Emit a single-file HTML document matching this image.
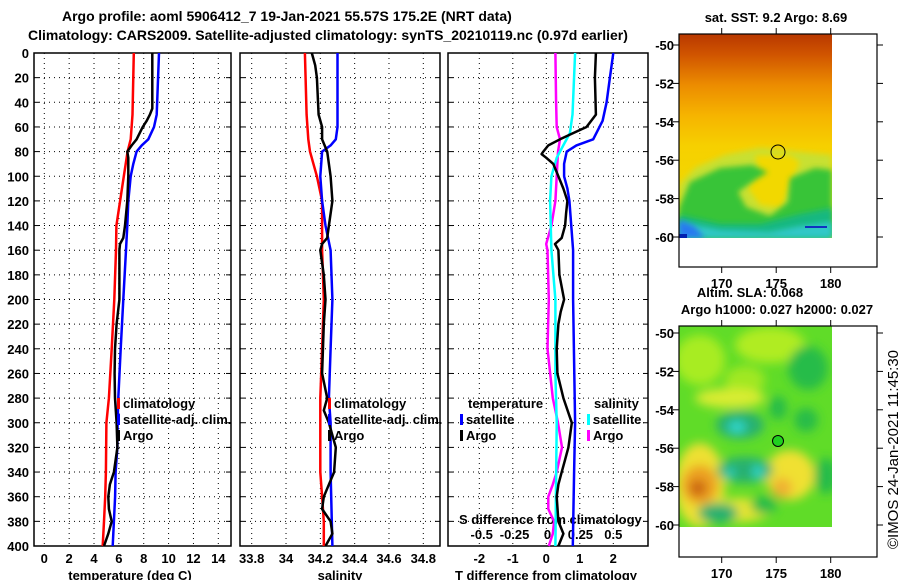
<!DOCTYPE html>
<html><head><meta charset="utf-8"><style>
html,body{margin:0;padding:0;background:#fff;}
svg{display:block;font-family:"Liberation Sans",sans-serif;font-weight:bold;}
text{font-size:13px;fill:#000;}
</style></head><body>
<svg id="chart" width="900" height="580" viewBox="0 0 900 580" xmlns="http://www.w3.org/2000/svg">
<defs>
<linearGradient id="sstg" x1="0" y1="0" x2="0" y2="1">
<stop offset="0" stop-color="#b83800"/><stop offset="0.1" stop-color="#d05400"/><stop offset="0.25" stop-color="#ec8c00"/><stop offset="0.4" stop-color="#f6b400"/><stop offset="0.55" stop-color="#f6d000"/><stop offset="1" stop-color="#ece000"/>
</linearGradient>
<filter id="bl" x="-20%" y="-20%" width="140%" height="140%"><feGaussianBlur stdDeviation="3"/></filter>
<filter id="bl2" x="-30%" y="-30%" width="160%" height="160%"><feGaussianBlur stdDeviation="5"/></filter>
<clipPath id="c1"><rect x="679" y="34" width="153" height="204"/></clipPath>
<clipPath id="c2"><rect x="679" y="326" width="153" height="201"/></clipPath>
</defs>
<text x="62" y="21" style="font-size:14px">Argo profile: aoml 5906412_7 19-Jan-2021 55.57S 175.2E (NRT data)</text>
<text x="28" y="40" style="font-size:14px">Climatology: CARS2009. Satellite-adjusted climatology: synTS_20210119.nc (0.97d earlier)</text>
<g id="panels"></g>

<g>
<text x="776" y="22" text-anchor="middle">sat. SST: 9.2 Argo: 8.69</text>
<g clip-path="url(#c1)">
<rect x="679" y="34" width="153" height="204" fill="url(#sstg)"/>
<polygon filter="url(#bl)" fill="#c8e030" points="679,185 695,168 725,155 760,148 800,152 832,155 832,238 679,238"/>
<polygon filter="url(#bl)" fill="#f2d800" points="755,155 790,155 800,162 790,185 782,208 760,205 748,188 758,170"/>
<polygon filter="url(#bl)" fill="#38c438" points="679,208 690,182 720,168 752,165 768,172 752,182 738,192 746,207 770,216 788,202 790,178 815,168 832,170 832,238 679,238"/>
<polygon filter="url(#bl)" fill="#18b880" points="679,215 720,224 760,224 800,214 832,208 832,238 679,238"/>
<polygon filter="url(#bl)" fill="#30c8c8" points="679,222 720,230 770,232 800,226 832,222 832,238 679,238"/>
<polygon filter="url(#bl)" fill="#2878f0" points="679,220 694,226 705,238 679,238"/>
<rect x="805" y="226" width="22" height="2" fill="#1030c0"/>
<rect x="679" y="234" width="8" height="4" fill="#0020b0"/>
</g>
<circle cx="778" cy="152" r="7" fill="none" stroke="#000" stroke-width="1"/>
<rect x="679" y="34" width="198" height="233" fill="none" stroke="#000" stroke-width="1.2"/>
</g>

<g>
<text x="750" y="297" text-anchor="middle">Altim. SLA: 0.068</text>
<text x="777" y="314" text-anchor="middle">Argo h1000: 0.027 h2000: 0.027</text>
<g clip-path="url(#c2)">
<rect x="679" y="326" width="153" height="201" fill="#60dc28"/>
<g filter="url(#bl2)">
<ellipse cx="700" cy="360" rx="25" ry="25" fill="#a8ec20"/>
<ellipse cx="770" cy="345" rx="35" ry="18" fill="#b0ec20"/>
<ellipse cx="745" cy="380" rx="20" ry="14" fill="#a0e820"/>
<ellipse cx="730" cy="398" rx="35" ry="10" fill="#d8ec30"/>
<ellipse cx="700" cy="485" rx="25" ry="42" fill="#eee030"/>
<ellipse cx="790" cy="475" rx="25" ry="25" fill="#f0e030"/>
<ellipse cx="740" cy="510" rx="30" ry="12" fill="#e4e430"/>
<ellipse cx="700" cy="485" rx="18" ry="20" fill="#eca020"/>
<ellipse cx="698" cy="488" rx="8" ry="8" fill="#c86010"/>
<ellipse cx="782" cy="488" rx="10" ry="10" fill="#f0b030"/>
<ellipse cx="808" cy="368" rx="20" ry="22" fill="#28bc48"/>
<ellipse cx="778" cy="408" rx="9" ry="12" fill="#28bc48"/>
<ellipse cx="806" cy="420" rx="12" ry="12" fill="#28bc48"/>
<ellipse cx="826" cy="476" rx="12" ry="18" fill="#28bc48"/>
<ellipse cx="764" cy="505" rx="13" ry="9" fill="#28bc48"/>
<ellipse cx="740" cy="425" rx="24" ry="14" fill="#28b070"/>
<ellipse cx="745" cy="470" rx="28" ry="13" fill="#28b070"/>
<ellipse cx="718" cy="513" rx="20" ry="10" fill="#28b070"/>
<ellipse cx="737" cy="427" rx="9" ry="6" fill="#30d8d0"/>
<ellipse cx="758" cy="472" rx="5" ry="7" fill="#30d8d0"/>
<ellipse cx="730" cy="473" rx="4" ry="5" fill="#30d8d0"/>
</g>
</g>
<circle cx="778" cy="441" r="5.5" fill="#20d020" stroke="#000" stroke-width="1"/>
<rect x="679" y="326" width="198" height="231" fill="none" stroke="#000" stroke-width="1.2"/>
</g>
<g id="mapaxes"></g>
<text transform="translate(898,549) rotate(-90)" textLength="199" lengthAdjust="spacingAndGlyphs" style="font-weight:normal;font-size:15px">©IMOS 24-Jan-2021 11:45:30</text>

<script>
// ---- data ----
const depthTicks = [0,20,40,60,80,100,120,140,160,180,200,220,240,260,280,300,320,340,360,380,400];
const tempTicks = [0,2,4,6,8,10,12,14];
const salTicks = [33.8,34,34.2,34.4,34.6,34.8];
const salTickLabels = ["33.8","34","34.2","34.4","34.6","34.8"];
const tdiffTicks = [-2,-1,0,1,2];
const sdiffTicks = [-0.5,-0.25,0,0.25,0.5];
const sdiffTickLabels = ["-0.5","-0.25","0","0.25","0.5"];

const tClimDepth = [0,50,70,80,100,120,140,160,200,240,280,300,340,360,380,400];
const tClim      = [7.2,7.1,6.95,6.7,6.4,6.1,5.8,5.77,5.63,5.42,5.2,5.0,4.96,4.9,4.8,4.7];
const tSatDepth = [0,50,60,70,75,80,90,100,120,140,160,200,240,280,300,320,340,360,380,400];
const tSat      = [9.23,9.04,8.83,8.37,7.84,7.43,7.16,6.95,6.76,6.68,6.57,6.36,6.15,5.95,5.9,5.88,5.74,5.7,5.6,5.5];
const tArgoDepth = [0,45,50,55,60,70,75,80,85,100,120,140,150,155,160,200,220,240,260,280,300,320,340,350,360,370,380,390,400];
const tArgo      = [8.69,8.69,8.5,8.24,7.92,7.43,7.03,6.68,6.76,6.76,6.68,6.49,6.36,6.09,6.04,6.04,5.82,5.69,5.66,5.69,5.82,5.88,5.6,5.28,5.15,5.2,5.42,5.15,4.8];

const sClimDepth = [0,50,70,80,100,120,160,200,240,280,300,340,360,380,400];
const sClim      = [34.11,34.12,34.13,34.14,34.18,34.21,34.21,34.22,34.21,34.2,34.2,34.2,34.21,34.22,34.22];
const sSatDepth = [0,60,70,75,80,100,120,140,160,200,240,280,300,340,400];
const sSat      = [34.3,34.3,34.29,34.26,34.21,34.2,34.21,34.23,34.26,34.27,34.26,34.25,34.26,34.26,34.27];
const sArgoDepth = [0,10,20,50,60,70,80,90,100,120,140,150,155,160,180,200,220,260,280,290,300,320,340,360,370,380,390,400];
const sArgo      = [34.15,34.17,34.18,34.19,34.21,34.21,34.24,34.25,34.26,34.27,34.25,34.24,34.21,34.2,34.22,34.23,34.22,34.21,34.24,34.22,34.25,34.29,34.28,34.22,34.21,34.26,34.27,34.23];

const dtSatDepth = [0,20,40,55,70,75,80,90,100,110,120,160,200,300,340,400];
const dtSat      = [2.0,1.9,1.8,1.68,1.4,0.9,0.61,0.53,0.53,0.63,0.69,0.8,0.8,0.86,0.83,0.79];
const dtArgoDepth = [0,20,50,60,65,70,75,80,82,85,90,100,110,120,130,140,150,155,160,180,200,210,220,240,260,280,300,320,330,340,350,360,380,390,400];
const dtArgo      = [1.48,1.45,1.48,1.2,0.8,0.41,0.06,-0.09,-0.14,0.0,0.21,0.36,0.51,0.63,0.59,0.56,0.46,0.26,0.36,0.39,0.53,0.43,0.36,0.31,0.33,0.51,0.76,0.66,0.56,0.46,0.36,0.31,0.36,0.51,0.36];
const dsSatDepth = [0,50,65,75,85,100,120,160,200,260,300,400];
const dsSat      = [0.21,0.19,0.17,0.12,0.07,0.03,0.02,0.03,0.06,0.06,0.07,0.06];
const dsArgoDepth = [0,40,60,70,80,100,120,140,155,160,200,240,280,290,300,320,340,350,360,370,380,390,400];
const dsArgo      = [0.06,0.065,0.07,0.095,0.08,0.07,0.06,0.03,-0.01,0.0,0.01,0.0,0.04,0.06,0.08,0.11,0.07,0.04,0.006,0.006,0.05,0.04,0.01];

const mapLonTicks = [170,175,180];
const mapLatTicks = [-50,-52,-54,-56,-58,-60];

// ---- helpers ----
const NS = "http://www.w3.org/2000/svg";
const root = document.getElementById('panels');
function mk(tag, attrs, parent){ const e=document.createElementNS(NS,tag); for(const k in attrs) e.setAttribute(k,attrs[k]); (parent||root).appendChild(e); return e; }
const Y0=53, Y1=546;
function yD(d){ return Y0 + d*(Y1-Y0)/400; }
function linScale(v0,p0,v1,p1){ return v=> p0 + (v-v0)*(p1-p0)/(v1-v0); }
const xT = linScale(0,44.3,14,218.3);
const xS = linScale(33.8,251.7,34.8,423.3);
const xDT = linScale(0,546.3,2,613.3);
const xDS = linScale(0,547.5,0.5,613.3);
const panels = [{x0:34,x1:231,name:'temperature'},{x0:240,x1:440,name:'salinity'},{x0:448,x1:648,name:'difference'}];

function line(depths, vals, sx, color, w, name){
  const pts = depths.map((d,i)=> sx(vals[i]).toFixed(1)+','+yD(d).toFixed(1)).join(' ');
  const p = mk('polyline',{points:pts,fill:'none',stroke:color,'stroke-width':w,'stroke-linejoin':'round'});
  
  
}
function txt(x,y,s,anchor,name,size){
  const t = mk('text',{x:x,y:y,'text-anchor':anchor||'start'});
  if(size) t.style.fontSize=size+'px';
  t.textContent=s;
  
  
  return t;
}

// grids & frames
panels.forEach((p,pi)=>{
  const g = mk('g',{});
  
  
  depthTicks.forEach(d=>{
    if(d>0 && d<400) mk('line',{x1:p.x0,x2:p.x1,y1:yD(d),y2:yD(d),stroke:'#000','stroke-width':1,'stroke-dasharray':'1,4'},g);
    mk('line',{x1:p.x0,x2:p.x0+5,y1:yD(d),y2:yD(d),stroke:'#000','stroke-width':1},g);
    mk('line',{x1:p.x1-5,x2:p.x1,y1:yD(d),y2:yD(d),stroke:'#000','stroke-width':1},g);
  });
  let xs = pi===0? tempTicks.map(xT) : pi===1? salTicks.map(xS) : tdiffTicks.map(xDT);
  xs.forEach(x=> mk('line',{x1:x,x2:x,y1:Y0,y2:Y1,stroke:'#000','stroke-width':1,'stroke-dasharray':'1,4'},g));
  mk('rect',{x:p.x0,y:Y0,width:p.x1-p.x0,height:Y1-Y0,fill:'none',stroke:'#000','stroke-width':1.5},g);
});
depthTicks.forEach(d=> txt(29,yD(d)+5,String(d),'end','depth-tick-label'));
tempTicks.forEach(v=> txt(xT(v),563,String(v),'middle','temp-tick-label'));
salTickLabels.forEach((s,i)=> txt(xS(salTicks[i]),563,s,'middle','salinity-tick-label'));
tdiffTicks.forEach(v=> txt(xDT(v),563,String(v),'middle','tdiff-tick-label'));
sdiffTickLabels.forEach((s,i)=> txt(xDS(sdiffTicks[i]),539,s,'middle','sdiff-tick-label'));
txt(130,580,'temperature (deg C)','middle','temp-axis-title');
txt(340,580,'salinity','middle','salinity-axis-title');
txt(546,580,'T difference from climatology','middle','tdiff-axis-title');
txt(459,524,'S difference from climatology','start','sdiff-axis-title');

// series
line(tClimDepth,tClim,xT,'#ff0000',2.5,'temp-climatology-line');
line(tSatDepth,tSat,xT,'#0000ff',2.5,'temp-satellite-line');
line(tArgoDepth,tArgo,xT,'#000',2.5,'temp-argo-line');
line(sClimDepth,sClim,xS,'#ff0000',2.5,'sal-climatology-line');
line(sSatDepth,sSat,xS,'#0000ff',2.5,'sal-satellite-line');
line(sArgoDepth,sArgo,xS,'#000',2.5,'sal-argo-line');
line(dsArgoDepth,dsArgo,xDS,'#ff00ff',2.5,'sdiff-argo-line');
line(dsSatDepth,dsSat,xDS,'#00ffff',2.5,'sdiff-satellite-line');
line(dtArgoDepth,dtArgo,xDT,'#000',2.5,'tdiff-argo-line');
line(dtSatDepth,dtSat,xDT,'#0000ff',2.5,'tdiff-satellite-line');

// legends
function legend(x,y,color,label,name){
  const r = mk('rect',{x:x,y:y-10,width:3,height:11,fill:color});
  
  
  txt(x+6,y,label,'start',name+'-label');
}
legend(117,408,'#ff0000','climatology','legend-temp-clim');
legend(117,424,'#0000ff','satellite-adj. clim.','legend-temp-sat');
legend(117,440,'#000','Argo','legend-temp-argo');
legend(328,408,'#ff0000','climatology','legend-sal-clim');
legend(328,424,'#0000ff','satellite-adj. clim.','legend-sal-sat');
legend(328,440,'#000','Argo','legend-sal-argo');
txt(468,408,'temperature','start','legend-temperature-heading');
legend(460,424,'#0000ff','satellite','legend-tdiff-sat');
legend(460,440,'#000','Argo','legend-tdiff-argo');
txt(594,408,'salinity','start','legend-salinity-heading');
legend(587,424,'#00ffff','satellite','legend-sdiff-sat');
legend(587,440,'#ff00ff','Argo','legend-sdiff-argo');

// map axes
const ma = document.getElementById('mapaxes');
const lonX = linScale(170,721.7,180,830.7);
[[34,267,45,'sst'],[326,557,333,'sla']].forEach(([top,bot,lat50,nm])=>{
  const latY = v=> lat50 + (-50 - v)*19.2;
  mapLatTicks.forEach(v=>{
    const y = latY(v);
    mk('line',{x1:679,x2:673,y1:y,y2:y,stroke:'#000'},ma);
    mk('line',{x1:877,x2:883,y1:y,y2:y,stroke:'#000'},ma);
    const t = txt(674,y+5,String(v),'end',nm+'-lat-tick-label'); ma.appendChild(t);
  });
  mapLonTicks.forEach(v=>{
    const x = lonX(v);
    mk('line',{x1:x,x2:x,y1:top,y2:top-6,stroke:'#000'},ma);
    mk('line',{x1:x,x2:x,y1:bot,y2:bot+6,stroke:'#000'},ma);
    const t = txt(x,bot+21,String(v),'middle',nm+'-lon-tick-label'); ma.appendChild(t);
  });
});
</script>
</svg>
</body></html>
